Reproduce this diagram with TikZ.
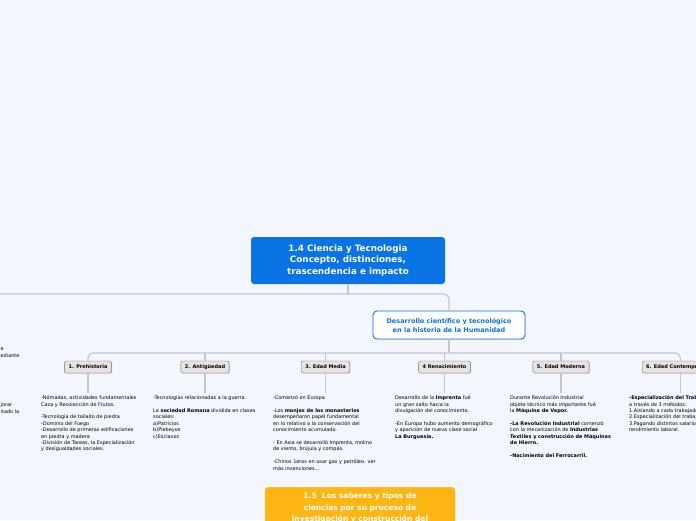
\documentclass[tikz,border=0pt]{standalone}
\usepackage{fontspec}
\setmainfont{DejaVu Sans}
\usetikzlibrary{shadows}

\definecolor{fondo}{HTML}{F4F6FD}
\definecolor{azul}{HTML}{0A73E6}
\definecolor{linea}{HTML}{C2C5CD}
\definecolor{naranja}{HTML}{FDB614}
\definecolor{gris}{HTML}{E4E4E4}

\tikzset{
  tema/.style={rounded corners=3pt, text=white, align=center,
    font=\bfseries\fontsize{7.5}{11.5}\selectfont},
  epoca/.style={draw=black!55, fill=gris, rounded corners=2pt, inner xsep=4pt,
    minimum height=12pt, inner ysep=0pt,
    font=\bfseries\fontsize{5}{5.5}\selectfont,
    drop shadow={opacity=0.25, shadow xshift=0.8pt, shadow yshift=-0.8pt}},
  notas/.style={anchor=north west, align=left, inner sep=0pt,
    font=\fontsize{4.95}{6.4}\selectfont},
  rama/.style={draw=linea, line width=1.1pt, rounded corners=5pt}
}

\begin{document}
\begin{tikzpicture}[x=1pt, y=-1pt]
                \fill[fondo] (0,0) rectangle (696,520);
                \useasboundingbox (0,0) rectangle (696,520);
                % nodos principales
                \node[tema, fill=azul, minimum width=194pt, minimum height=47pt,
                    font=\bfseries\fontsize{8.8}{11.5}\selectfont] (ciencia) at (348,260.5)
                    {1.4 Ciencia y Tecnologia\\Concepto, distinciones,\\trascendencia e impacto};
                \node[draw=azul, line width=0.9pt, fill=white, rounded corners=4pt, text=azul, align=center,
                    minimum width=152pt, minimum height=28pt, font=\bfseries\fontsize{6.5}{9}\selectfont,
                    drop shadow={opacity=0.2, shadow xshift=0.8pt, shadow yshift=-0.8pt}] (desarrollo) at (449,325)
                    {Desarrollo científico y tecnológico\\en la historia de la Humanidad};
                \node[tema, fill=naranja, draw=naranja!70!white, minimum width=190pt, inner ysep=6pt, anchor=north] (saberes) at (360,487)
                    {1.5\ \ Los saberes y tipos de\\ciencias por su proceso de\\investigación y construcción del};
                % epocas
                \node[epoca] (prehistoria) at (88,367) {1. Prehistoria};
                \node[epoca] (antiguedad) at (205,367) {2. Antigüedad};
                \node[epoca] (media) at (325.5,367) {3. Edad Media};
                \node[epoca] (renacimiento) at (444.5,367) {4 Renacimiento};
                \node[epoca] (moderna) at (561,367) {5. Edad Moderna};
                \node[epoca, anchor=west] (contemp) at (642,367) {6. Edad Contemporánea};
                % conectores
                \coordinate (izq) at (-20,294);
                \coordinate (bus) at (449,353);
                \draw[rama] (izq) -| (desarrollo.north);
                \draw[rama] (ciencia.south) -- (ciencia.south |- izq);
                \draw[rama] (desarrollo.south) -- (bus);
                \draw[rama] (prehistoria.north) |- (bus) -| (contemp.north);
                \draw[rama] (antiguedad.north) -- (antiguedad.north |- bus);
                \draw[rama] (media.north) -- (media.north |- bus);
                \draw[rama] (renacimiento.north) -- (renacimiento.north |- bus);
                \draw[rama] (moderna.north) -- (moderna.north |- bus);
                \foreach \e in {prehistoria,antiguedad,media,renacimiento,moderna,contemp}
                    \draw[rama] (\e.south) -- ++(0,20);
                % textos
                \node[notas] (izqa) at (0.5,348) {e\\ediante};
                \node[notas] (izqb) at (0.5,403) {jorar\\itado la};
                \node[notas] (tprehistoria) at (41,395.5) {-Nómadas, actividades fundamentales\\Caza y Recolección de Frutos.\\[6.4pt]
                    -Tecnologia de tallado de piedra\\-Dominio del Fuego\\-Desarrollo de primeras edificaciones\\en piedra y madera\\
                    -División de Tareas, la Especialización\\y desigualdades sociales.};
                \node[notas] (tantiguedad) at (153,395.5) {-Tecnologías relacionadas a la guerra.\\[6.4pt]
                    La \textbf{sociedad Romana} dividida en clases\\sociales:\\a)Patricios\\b)Plebeyos\\c)Esclavos};
                \node[notas] (tmedia) at (273,395.5) {-Comenzó en Europa\\[6.4pt]
                    -Los \textbf{monjes de los monasterios}\\desempeñaron papel fundamental\\en lo relativo a la conservación del\\conocimiento acumulado.\\[6.4pt]
                    - En Asia se desarrolló Imprenta, molino\\de viento, brújula y compás.\\[6.4pt]
                    -Chinos 1eros en usar gas y petróleo. ver\\más invenciones...};
                \node[notas] (trenacimiento) at (395,395.5) {Desarrollo de la \textbf{Imprenta} fué\\un gran salto hacia la\\divulgación del conocimiento.\\[6.4pt]
                    -En Europa hubo aumento demográfico\\y aparición de nueva clase social\\\textbf{La Burguesía.}};
                \node[notas] (tmoderna) at (510,395.5) {Durante Revolución Industrial\\objeto técnico más importante fué\\la \textbf{Máquina de Vapor.}\\[6.4pt]
                    \textbf{-La Revolución Industrial} comenzó\\con la mecanización de \textbf{Industrias}\\\textbf{Textiles y construcción de Máquinas}\\\textbf{de Hierro.}\\[6.4pt]
                    \textbf{-Nacimiento del Ferrocarril.}};
                \node[notas] (tcontemp) at (629,395.5) {\textbf{-Especialización del Trabajo}\\a través de 3 métodos:\\1.Aislando a cada trabajador\\2.Especialización del trabajo\\3.Pagando distintos salarios\\rendimiento laboral.};
            \end{tikzpicture}
\end{document}
